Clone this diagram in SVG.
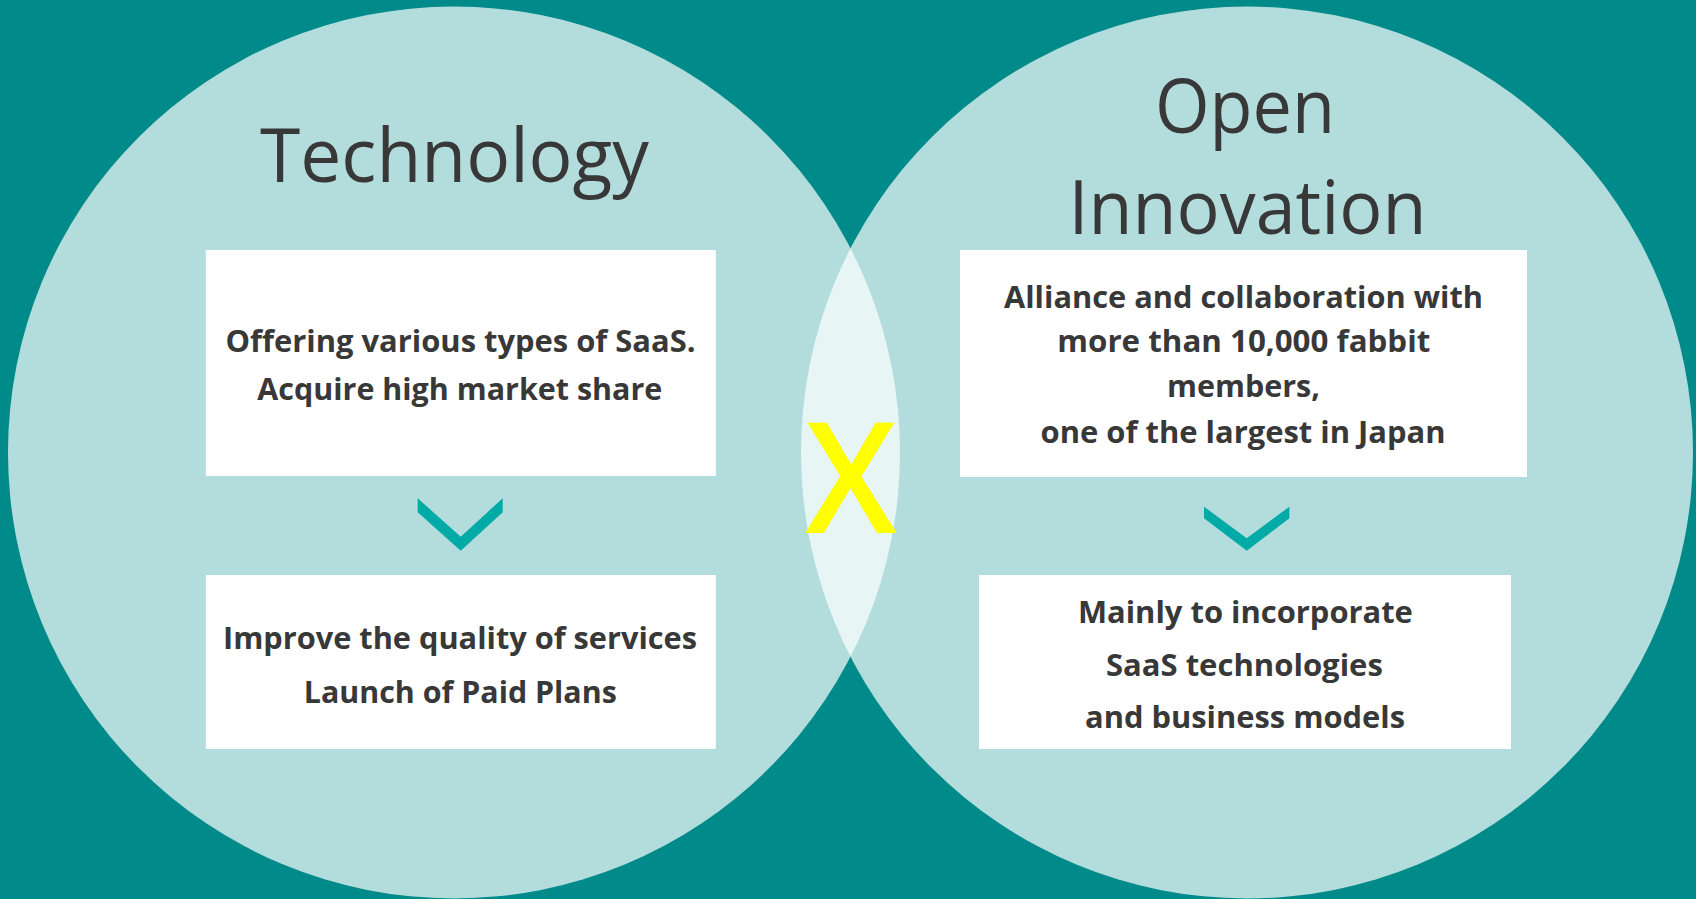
<svg xmlns="http://www.w3.org/2000/svg" width="1696" height="899" viewBox="0 0 1696 899">
<style>
.circ{fill:#ffffff;fill-opacity:0.7}
.box{fill:#ffffff}
.title{font-family:"Open Sans","Noto Sans","Liberation Sans",sans-serif;font-size:75px;fill:#383838;text-anchor:middle}
.body{font-family:"Open Sans","Noto Sans","Liberation Sans",sans-serif;font-size:31px;font-weight:bold;fill:#383838;text-anchor:middle}
.chev{fill:#00AAA6}
.cross{font-family:"Open Sans","Noto Sans","Liberation Sans",sans-serif;font-size:154px;font-weight:600;fill:#FFFF00;text-anchor:middle}
</style>
<rect x="0" y="0" width="1696" height="899" fill="#008B8A"/>
<g id="circle-technology">
<circle class="circ" cx="454" cy="452.5" r="446"/>
<text class="title" x="454.5" y="181.7" textLength="389" lengthAdjust="spacingAndGlyphs">Technology</text>
</g>
<g id="circle-open-innovation">
<circle class="circ" cx="1247" cy="452.5" r="446"/>
<text class="title" x="1245" y="132.7" textLength="180" lengthAdjust="spacingAndGlyphs">Open</text>
<text class="title" x="1247.5" y="234" textLength="358" lengthAdjust="spacingAndGlyphs">Innovation</text>
</g>
<g id="cross">
<text class="cross" x="851" y="532.7" textLength="92" lengthAdjust="spacingAndGlyphs">X</text>
</g>
<g id="box-tech-1">
<rect class="box" x="205.8" y="250" width="510" height="226"/>
<text class="body" x="460.5" y="351.7" textLength="470" lengthAdjust="spacingAndGlyphs">Offering various types of SaaS.</text>
<text class="body" x="459.8" y="400" textLength="405" lengthAdjust="spacingAndGlyphs">Acquire high market share</text>
</g>
<g id="box-tech-2">
<rect class="box" x="205.8" y="575" width="510" height="174"/>
<text class="body" x="460" y="649.3" textLength="474" lengthAdjust="spacingAndGlyphs">Improve the quality of services</text>
<text class="body" x="460.3" y="702.7" textLength="313" lengthAdjust="spacingAndGlyphs">Launch of Paid Plans</text>
</g>
<g id="box-oi-1">
<rect class="box" x="960" y="250" width="567" height="227"/>
<text class="body" x="1243.5" y="307.7" textLength="479" lengthAdjust="spacingAndGlyphs">Alliance and collaboration with</text>
<text class="body" x="1243.8" y="352.3" textLength="373" lengthAdjust="spacingAndGlyphs">more than 10,000 fabbit</text>
<text class="body" x="1243.5" y="397.3" textLength="153" lengthAdjust="spacingAndGlyphs">members,</text>
<text class="body" x="1243.1" y="443.3" textLength="405" lengthAdjust="spacingAndGlyphs">one of the largest in Japan</text>
</g>
<g id="box-oi-2">
<rect class="box" x="979" y="575" width="532" height="174"/>
<text class="body" x="1245.4" y="622.7" textLength="335" lengthAdjust="spacingAndGlyphs">Mainly to incorporate</text>
<text class="body" x="1244.4" y="675.7" textLength="277" lengthAdjust="spacingAndGlyphs">SaaS technologies</text>
<text class="body" x="1245" y="728.3" textLength="320" lengthAdjust="spacingAndGlyphs">and business models</text>
</g>
<g id="connectors">
<polygon class="chev" points="417.7,498.3 460.7,536.7 502.7,498.3 502.7,512.3 460.7,550.7 417.7,512.3"/>
<polygon class="chev" points="1204,506.7 1246.8,538.3 1289.4,506.7 1289.4,518.3 1246.8,550.7 1204,518.3"/>
</g>
</svg>
